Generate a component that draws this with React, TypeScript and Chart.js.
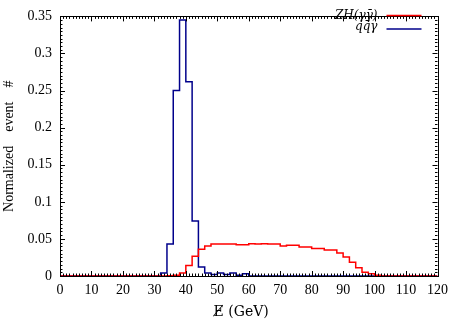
import { useEffect, useRef } from "react";
import { Chart, registerables } from "chart.js";
Chart.register(...registerables);

// Bin edges (GeV), 2 GeV wide bins
const binEdges = [
  0, 2, 4, 6, 8, 10, 12, 14, 16, 18, 20, 22, 24, 26, 28, 30, 32, 34, 36, 38,
  40, 42, 44, 46, 48, 50, 52, 54, 56, 58, 60, 62, 64, 66, 68, 70, 72, 74, 76, 78,
  80, 82, 84, 86, 88, 90, 92, 94, 96, 98, 100, 102, 104, 106, 108, 110, 112, 114, 116, 118, 120,
];

// ZH(γγ̄) normalized counts per bin
const zhValues = [
  0, 0, 0, 0, 0, 0, 0, 0, 0, 0, 0, 0, 0, 0, 0, 0, 0, 0.0005, 0.001, 0.004,
  0.014, 0.0265, 0.036, 0.0405, 0.043, 0.043, 0.043, 0.043, 0.042, 0.042, 0.0436, 0.043, 0.0436, 0.043, 0.043, 0.0405, 0.0415, 0.0415, 0.039, 0.039,
  0.037, 0.037, 0.035, 0.035, 0.031, 0.0257, 0.0185, 0.011, 0.005, 0.003, 0.001, 0, 0, 0, 0, 0, 0, 0, 0, 0,
];

// qq̄γ normalized counts per bin
const qqValues = [
  0, 0, 0, 0, 0, 0, 0, 0, 0, 0, 0, 0, 0, 0, 0, 0, 0.004, 0.043, 0.25, 0.345,
  0.262, 0.074, 0.012, 0.004, 0.002, 0.004, 0.002, 0.004, 0.001, 0.003, 0, 0, 0, 0, 0, 0, 0, 0, 0, 0,
  0, 0, 0, 0, 0, 0, 0, 0, 0, 0, 0, 0, 0, 0, 0, 0, 0, 0, 0, 0,
];

const xTicks = [0, 10, 20, 30, 40, 50, 60, 70, 80, 90, 100, 110, 120];
const yTicks = [0, 0.05, 0.1, 0.15, 0.2, 0.25, 0.3, 0.35];

const seriesNames = ["ZH(γγ\u0304)", "qq\u0304γ"];
const seriesColors = ["#ff0000", "#00008b"];
const xTitle = "E\u0338 (GeV)";
const yTitle = "Normalized\u2003event\u2003#";

const FONT = "'Liberation Serif', 'DejaVu Serif', serif";
const MFONT = "'DejaVu Serif', 'Liberation Serif', serif";

function toSteps(vals: number[]) {
  return binEdges.map((e, i) => ({ x: e, y: vals[Math.min(i, vals.length - 1)] }));
}

const framePlugin = {
  id: "frameTicks",
  afterDraw(chart: any) {
    const { ctx, chartArea } = chart;
    const { left, right, top, bottom } = chartArea;
    const xs = chart.scales.x;
    const ys = chart.scales.y;
    ctx.save();
    ctx.strokeStyle = "#000";
    ctx.lineWidth = 1;
    ctx.beginPath();
    for (let v = 0; v <= 120; v += 1) {
      const px = Math.round(xs.getPixelForValue(v)) + 0.5;
      const major = v % 10 === 0;
      const len = major ? 5 : 2.5;
      ctx.moveTo(px, bottom);
      ctx.lineTo(px, bottom - len);
      ctx.moveTo(px, top);
      ctx.lineTo(px, top + len);
    }
    for (let k = 0; k <= 70; k++) {
      const v = k * 0.005;
      const py = Math.round(ys.getPixelForValue(v)) + 0.5;
      const major = k % 10 === 0;
      const len = major ? 5 : 2.5;
      ctx.moveTo(left, py);
      ctx.lineTo(left + len, py);
      ctx.moveTo(right, py);
      ctx.lineTo(right - len, py);
    }
    ctx.stroke();
    ctx.strokeRect(Math.round(left) + 0.5, Math.round(top) + 0.5, Math.round(right - left), Math.round(bottom - top));

    // x-axis title
    ctx.fillStyle = "#000";
    ctx.font = `14px ${MFONT}`;
    ctx.textAlign = "center";
    ctx.textBaseline = "alphabetic";
    ctx.fillText(xTitle, left + (right - left) * 0.48, bottom + 40);

    // legend
    ctx.font = `italic 12px ${MFONT}`;
    ctx.textAlign = "right";
    const rows = [19, 30];
    const lineRows = [15.5, 29];
    seriesNames.forEach((name, i) => {
      ctx.fillStyle = "#000";
      ctx.fillText(name, right - 60, rows[i]);
      ctx.strokeStyle = seriesColors[i];
      ctx.lineWidth = 1.5;
      ctx.beginPath();
      ctx.moveTo(right - 51, lineRows[i]);
      ctx.lineTo(right - 16, lineRows[i]);
      ctx.stroke();
    });
    ctx.restore();
  },
};

export default function App() {
  const ref = useRef<HTMLCanvasElement | null>(null);
  useEffect(() => {
    if (!ref.current) return;
    const chart = new Chart(ref.current, {
      type: "line",
      data: {
        datasets: [
          {
            label: seriesNames[0],
            data: toSteps(zhValues),
            borderColor: seriesColors[0],
            borderWidth: 1.5,
            stepped: "before",
            pointRadius: 0,
            fill: false,
          },
          {
            label: seriesNames[1],
            data: toSteps(qqValues),
            borderColor: seriesColors[1],
            borderWidth: 1.5,
            stepped: "before",
            pointRadius: 0,
            fill: false,
          },
        ],
      },
      options: {
        animation: false,
        responsive: false,
        maintainAspectRatio: false,
        layout: { padding: { top: 5, right: 11, left: 0, bottom: 0 } },
        plugins: {
          legend: { display: false },
          tooltip: { enabled: false },
        },
        scales: {
          x: {
            type: "linear",
            min: 0,
            max: 120,
            afterBuildTicks: (s: any) => {
              s.ticks = xTicks.map((v) => ({ value: v }));
            },
            afterFit: (s: any) => {
              s.height = 57;
            },
            grid: { display: false, drawTicks: false },
            border: { display: false },
            ticks: {
              color: "#000",
              font: { family: FONT, size: 14 },
              padding: 6,
              maxRotation: 0,
              autoSkip: false,
            },
          },
          y: {
            type: "linear",
            min: 0,
            max: 0.35,
            afterBuildTicks: (s: any) => {
              s.ticks = yTicks.map((v) => ({ value: v }));
            },
            afterFit: (s: any) => {
              s.width = 60;
            },
            grid: { display: false, drawTicks: false },
            border: { display: false },
            ticks: {
              color: "#000",
              font: { family: FONT, size: 14 },
              padding: 8,
              autoSkip: false,
              callback: (v: any) => String(Number(Number(v).toFixed(2))),
            },
            title: {
              display: true,
              text: yTitle,
              color: "#000",
              font: { family: FONT, size: 14 },
              padding: { top: 1, bottom: 0 },
            },
          },
        },
      },
      plugins: [framePlugin],
    } as any);
    return () => chart.destroy();
  }, []);
  return (
    <div style={{ position: "absolute", left: 0, top: 0, width: 454, height: 333, background: "#fff" }}>
      <canvas ref={ref} width={454} height={333} style={{ display: "block" }} />
    </div>
  );
}
